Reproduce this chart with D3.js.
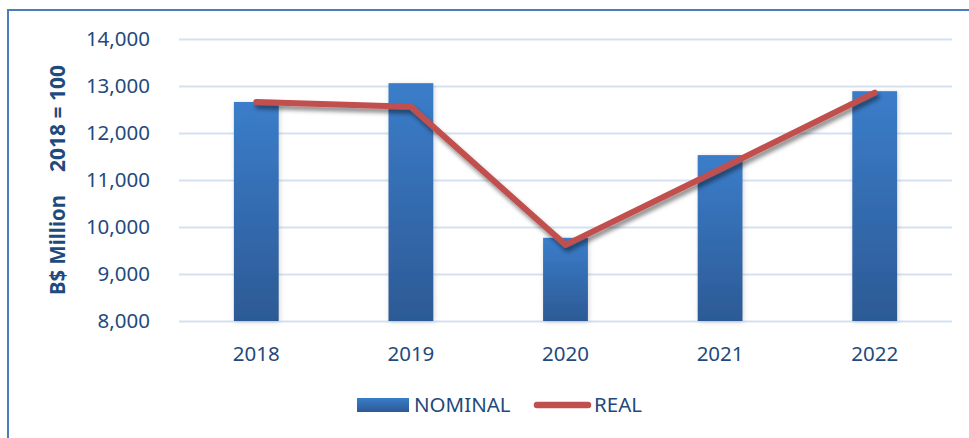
<!DOCTYPE html>
<html>
<head>
<meta charset="utf-8">
<script src="https://cdn.jsdelivr.net/npm/d3@7"></script>
<style>
  body { margin: 0; background: #fff; }
  text { font-family: "Noto Sans", "Open Sans", sans-serif; fill: #1f4a7e; }
</style>
</head>
<body>
<div id="canvas"></div>
<script>
// values
var years = ["2018", "2019", "2020", "2021", "2022"];
var nominal = [12660, 13060, 9770, 11530, 12890];
var real = [12660, 12560, 9620, 11230, 12860];
var yTicks = [8000, 9000, 10000, 11000, 12000, 13000, 14000];

var W = 969, H = 438;
var plot = {left: 179, right: 952, top: 39, bottom: 321};

var svg = d3.select("#canvas").append("svg")
  .attr("width", W)
  .attr("height", H);

var defs = svg.append("defs");

var grad = defs.append("linearGradient")
  .attr("id", "barGrad")
  .attr("x1", 0).attr("y1", 0).attr("x2", 0).attr("y2", 1);
grad.append("stop").attr("offset", "0%").attr("stop-color", "#3b7dca");
grad.append("stop").attr("offset", "100%").attr("stop-color", "#2c5a95");

var barShadow = defs.append("filter").attr("id", "barShadow")
  .attr("x", "-30%").attr("y", "-10%").attr("width", "160%").attr("height", "120%");
barShadow.append("feDropShadow")
  .attr("dx", 1).attr("dy", 1).attr("stdDeviation", 2.5)
  .attr("flood-color", "#888").attr("flood-opacity", 0.35);

var lineShadow = defs.append("filter").attr("id", "lineShadow")
  .attr("x", "-10%").attr("y", "-20%").attr("width", "120%").attr("height", "140%");
lineShadow.append("feDropShadow")
  .attr("dx", 2).attr("dy", 4).attr("stdDeviation", 2)
  .attr("flood-color", "#000").attr("flood-opacity", 0.45);

// chart border (only top and left show in the crop)
svg.append("rect")
  .attr("x", 8).attr("y", 10)
  .attr("width", W + 20).attr("height", H + 20)
  .attr("fill", "none")
  .attr("stroke", "#4a7ebb")
  .attr("stroke-width", 2);

var x = d3.scaleBand()
  .domain(years)
  .range([plot.left, plot.right])
  .paddingInner(0.71)
  .paddingOuter(0.355);

var y = d3.scaleLinear()
  .domain([8000, 14000])
  .range([plot.bottom, plot.top]);

// gridlines
var grid = svg.append("g")
  .attr("transform", "translate(" + plot.left + ",0)")
  .call(d3.axisLeft(y).tickValues(yTicks).tickSize(-(plot.right - plot.left)).tickFormat(""));
grid.select(".domain").remove();
grid.selectAll("line")
  .attr("stroke", "#d5e1f0")
  .attr("stroke-width", 2);

// y axis labels
var yAxis = svg.append("g")
  .attr("transform", "translate(" + plot.left + ",0)")
  .call(d3.axisLeft(y).tickValues(yTicks).tickSize(0).tickPadding(29).tickFormat(d3.format(",")));
yAxis.select(".domain").remove();
yAxis.selectAll("text")
  .attr("font-size", 20.5)
  .style("font-family", "'Noto Sans', sans-serif")
  .attr("fill", "#1f4a7e");

// bars
svg.append("g").selectAll("rect")
  .data(nominal)
  .enter()
  .append("rect")
  .attr("x", (d, i) => x(years[i]))
  .attr("y", d => y(d))
  .attr("width", x.bandwidth())
  .attr("height", d => y(8000) - y(d))
  .attr("fill", "url(#barGrad)")
  .attr("filter", "url(#barShadow)");

// x axis labels
var xAxis = svg.append("g")
  .attr("transform", "translate(0," + plot.bottom + ")")
  .call(d3.axisBottom(x).tickSize(0).tickPadding(25));
xAxis.select(".domain").remove();
xAxis.selectAll("text")
  .attr("font-size", 20.5)
  .style("font-family", "'Noto Sans', sans-serif")
  .attr("fill", "#1f4a7e");

// real line
var line = d3.line()
  .x((d, i) => x(years[i]) + x.bandwidth() / 2)
  .y(d => y(d));

svg.append("path")
  .datum(real)
  .attr("d", line)
  .attr("fill", "none")
  .attr("stroke", "#c0504d")
  .attr("stroke-width", 6)
  .attr("stroke-linecap", "round")
  .attr("stroke-linejoin", "round")
  .attr("filter", "url(#lineShadow)");

// y axis title
var ytitle = svg.append("g")
  .attr("transform", "translate(65,0) rotate(-90)");
ytitle.append("text")
  .attr("x", -295)
  .attr("y", 0)
  .attr("text-anchor", "start")
  .attr("font-size", 21)
  .attr("font-weight", "bold")
  .attr("textLength", 100)
  .attr("lengthAdjust", "spacingAndGlyphs")
  .text("B$ Million");
ytitle.append("text")
  .attr("x", -172)
  .attr("y", 0)
  .attr("text-anchor", "start")
  .attr("font-size", 21)
  .attr("font-weight", "bold")
  .attr("textLength", 107)
  .attr("lengthAdjust", "spacingAndGlyphs")
  .text("2018 = 100");

// legend
var legend = svg.append("g");
legend.append("rect")
  .attr("x", 357).attr("y", 398)
  .attr("width", 52).attr("height", 14)
  .attr("fill", "url(#barGrad)");
legend.append("text")
  .attr("x", 414).attr("y", 412)
  .attr("font-size", 20.5)
  .text("NOMINAL");
legend.append("line")
  .attr("x1", 537).attr("x2", 588)
  .attr("y1", 405).attr("y2", 405)
  .attr("stroke", "#c0504d")
  .attr("stroke-width", 6.5)
  .attr("stroke-linecap", "round");
legend.append("text")
  .attr("x", 594).attr("y", 412)
  .attr("font-size", 20.5)
  .text("REAL");
</script>
</body>
</html>
